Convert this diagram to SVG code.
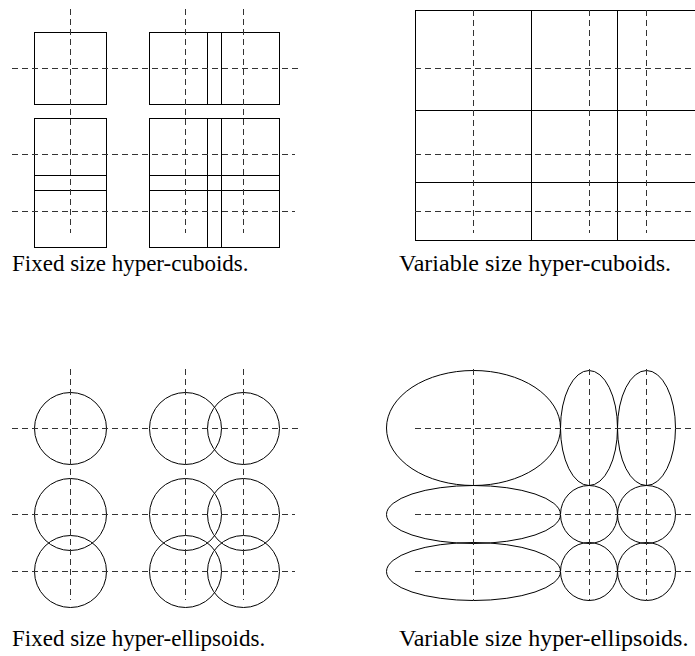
<svg xmlns="http://www.w3.org/2000/svg" width="695" height="656" viewBox="0 0 695 656">
<style>
.s{fill:none;stroke:#000;stroke-width:1}
.d{fill:none;stroke:#333;stroke-width:1;stroke-dasharray:6 4}
.t{font-family:"Liberation Serif","Times New Roman",serif;font-size:23px;fill:#000}
.v{font-size:24px}
</style>
<rect width="695" height="656" fill="#fff"/>
<g id="fixed-cuboids">
<g class="s">
<rect x="34.5" y="32.5" width="72" height="72"/>
<rect x="149.5" y="32.5" width="72" height="72"/>
<rect x="207.5" y="32.5" width="72" height="72"/>
<rect x="34.5" y="118.5" width="72" height="72"/>
<rect x="34.5" y="175.5" width="72" height="72"/>
<rect x="149.5" y="118.5" width="72" height="72"/>
<rect x="207.5" y="118.5" width="72" height="72"/>
<rect x="149.5" y="175.5" width="72" height="72"/>
<rect x="207.5" y="175.5" width="72" height="72"/>
</g>
<g class="d">
<path d="M70.5 9V233M185.5 9V233M243.5 9V233"/>
<path d="M12 68.5H300M12 154.5H295M12 211.5H295"/>
</g>
<text class="t" x="12" y="271">Fixed size hyper-cuboids.</text>
</g>
<g id="variable-cuboids">
<g class="s">
<rect x="415.5" y="10.5" width="300" height="230"/>
<path d="M531.5 10.5V240.5M617.5 10.5V240.5M415.5 110.5H700M415.5 182.5H700"/>
</g>
<g class="d">
<path d="M473.5 10V233M589.5 10V233M646.5 10V233"/>
<path d="M415 68.5H695M415 154.5H695M415 211.5H695"/>
</g>
<text class="t v" x="399" y="271">Variable size hyper-cuboids.</text>
</g>
<g id="fixed-ellipsoids">
<g class="s">
<circle cx="70.5" cy="428.5" r="36"/>
<circle cx="185.5" cy="428.5" r="36"/>
<circle cx="243.5" cy="428.5" r="36"/>
<circle cx="70.5" cy="514.5" r="36"/>
<circle cx="70.5" cy="571.5" r="36"/>
<circle cx="185.5" cy="514.5" r="36"/>
<circle cx="243.5" cy="514.5" r="36"/>
<circle cx="185.5" cy="571.5" r="36"/>
<circle cx="243.5" cy="571.5" r="36"/>
</g>
<g class="d">
<path d="M70.5 369V600M185.5 369V600M243.5 369V600"/>
<path d="M12 428.5H300M12 514.5H295M12 571.5H295"/>
</g>
<text class="t" x="12" y="646">Fixed size hyper-ellipsoids.</text>
</g>
<g id="variable-ellipsoids">
<g class="s">
<ellipse cx="473.5" cy="428" rx="87" ry="57.5"/>
<ellipse cx="589" cy="428" rx="28.5" ry="57.5"/>
<ellipse cx="646.5" cy="428" rx="29" ry="57.5"/>
<ellipse cx="473.5" cy="514.5" rx="87" ry="29"/>
<ellipse cx="589" cy="514.5" rx="28.5" ry="29"/>
<ellipse cx="646.5" cy="514.5" rx="29" ry="29"/>
<ellipse cx="473.5" cy="571.5" rx="87" ry="29"/>
<ellipse cx="589" cy="571.5" rx="28.5" ry="29"/>
<ellipse cx="646.5" cy="571.5" rx="29" ry="29"/>
</g>
<g class="d">
<path d="M473.5 369V600M589.5 369V600M646.5 369V600"/>
<path d="M415 428.5H695M415 514.5H695M415 571.5H695"/>
</g>
<text class="t v" x="399" y="646">Variable size hyper-ellipsoids.</text>
</g>
</svg>
